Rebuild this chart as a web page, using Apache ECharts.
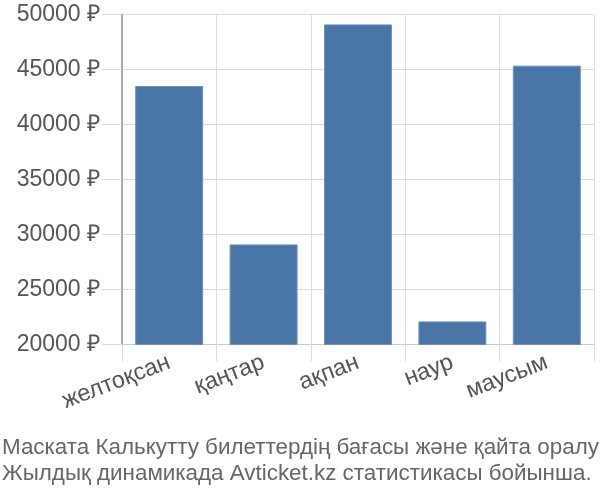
<!DOCTYPE html>
<html><head><meta charset="utf-8">
<script src="https://cdn.jsdelivr.net/npm/echarts@6/dist/echarts.min.js"></script>
<style>html,body{margin:0;padding:0;background:#fff}#c{width:600px;height:500px}</style>
</head><body><div id="c"></div>
<script>
const categories = ['желтоқсан', 'қаңтар', 'ақпан', 'наур', 'маусым'];
const prices = [43500, 29100, 49100, 22100, 45350];
const yMin = 20000, yMax = 50000, yStep = 5000;
const titleLines = ['Маската Калькутту билеттердің бағасы және қайта оралу', 'Жылдық динамикада Avticket.kz статистикасы бойынша.'];

const chart = echarts.init(document.getElementById('c'), null, {renderer: 'canvas'});
chart.setOption({
  animation: false,
  textStyle: {fontFamily: '"Liberation Sans", Arial, sans-serif'},
  title: {
    text: titleLines.join('\n'), left: -3, top: 430,
    textStyle: {fontSize: 22.4, fontWeight: 'normal', color: '#666', lineHeight: 26, fontFamily: '"Liberation Sans", Arial, sans-serif'}
  },
  grid: {left: 122, right: 6, top: 14.5, bottom: 155.5, containLabel: false},
  xAxis: {
    type: 'category', data: categories, boundaryGap: true,
    axisLine: {show: true, lineStyle: {color: '#ccc', width: 1}},
    axisTick: {show: true, length: 17, alignWithLabel: false, lineStyle: {color: '#ddd'}},
    splitLine: {show: true, lineStyle: {color: '#ddd'}},
    axisLabel: {rotate: 21, fontSize: 23.5, color: '#555', margin: 17, interval: 0}
  },
  yAxis: {
    type: 'value', min: yMin, max: yMax, interval: yStep,
    axisLine: {show: true, lineStyle: {color: '#aaa', width: 2}},
    axisTick: {show: true, length: 20, lineStyle: {color: '#ddd'}},
    splitLine: {show: true, lineStyle: {color: '#ddd'}},
    axisLabel: {fontSize: 23, color: '#555', margin: 22, formatter: v => v + ' ₽'}
  },
  series: [{
    type: 'bar', data: prices, barCategoryGap: '28%',
    itemStyle: {color: '#4a76a7', borderColor: '#6f92bb', borderWidth: 1}
  }]
});
</script></body></html>
